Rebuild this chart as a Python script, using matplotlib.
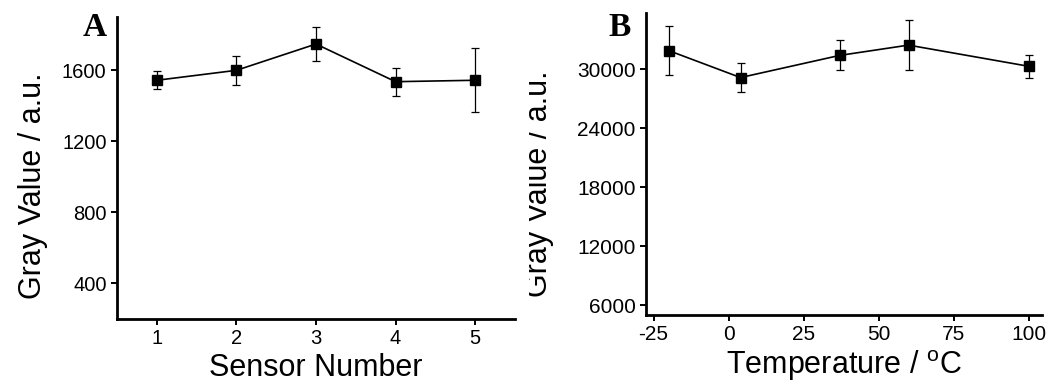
import numpy as np
import matplotlib
matplotlib.use('Agg')
import matplotlib.pyplot as plt
from matplotlib.transforms import Bbox

plt.rcParams['font.family'] = ['Liberation Sans', 'DejaVu Sans']
plt.rcParams['axes.unicode_minus'] = False

# panel A: sensor-to-sensor repeatability
sensor = [1, 2, 3, 4, 5]
gray_a = [1544, 1600, 1748, 1536, 1544]
err_a = [50, 82, 98, 78, 180]

# panel B: temperature stability
temp = [-20, 4, 37, 60, 100]
gray_b = [31900, 29150, 31400, 32450, 30300]
err_b = [2450, 1500, 1520, 2520, 1150]

fig = plt.figure(figsize=(10.62, 3.87), dpi=100)
axA = fig.add_axes([0.1102, 0.1757, 0.3747, 0.7803])
axB = fig.add_axes([0.6083, 0.186, 0.3729, 0.780])


def style(ax, fs):
    for s in ['top', 'right']:
        ax.spines[s].set_visible(False)
    for s in ['left', 'bottom']:
        ax.spines[s].set_linewidth(2.0)
    ax.tick_params(direction='out', length=4.5, width=1.4, labelsize=fs, pad=3)


for ax, x, y, e, fs in [(axA, sensor, gray_a, err_a, 14.5), (axB, temp, gray_b, err_b, 15)]:
    ax.errorbar(x, y, yerr=e, color='black', lw=1.2, marker='s', ms=6.5,
                capsize=3, elinewidth=0.9, capthick=0.9)
    style(ax, fs)

axA.set_xlim(0.5, 5.5)
axA.set_ylim(200, 1900)
axA.set_xticks(sensor)
axA.set_yticks([400, 800, 1200, 1600])
axA.set_xlabel('Sensor Number', fontsize=22, labelpad=3)
axA.set_ylabel('Gray Value / a.u.', fontsize=22)
axA.yaxis.set_label_coords(-0.174, 0.442)

axB.set_xlim(-27.5, 104.5)
axB.set_ylim(5000, 35700)
axB.set_xticks([-25, 0, 25, 50, 75, 100])
axB.set_yticks([6000, 12000, 18000, 24000, 30000])
axB.set_xlabel('Temperature / $\\mathregular{^o}$C', fontsize=22, labelpad=3)
axB.set_ylabel('Gray Value / a.u.', fontsize=22)
axB.yaxis.set_label_coords(-0.232, 0.434)
lab = axB.yaxis.label
lab.set_clip_on(True)
lab.set_clip_box(Bbox([[529, 0], [1062, 387]]))

fig.text(0.0894, 0.928, 'A', fontsize=24, fontweight='bold',
         family='Liberation Serif', ha='center', va='center')
fig.text(0.5837, 0.928, 'B', fontsize=24, fontweight='bold',
         family='Liberation Serif', ha='center', va='center')

fig.savefig('out.png', dpi=100)
